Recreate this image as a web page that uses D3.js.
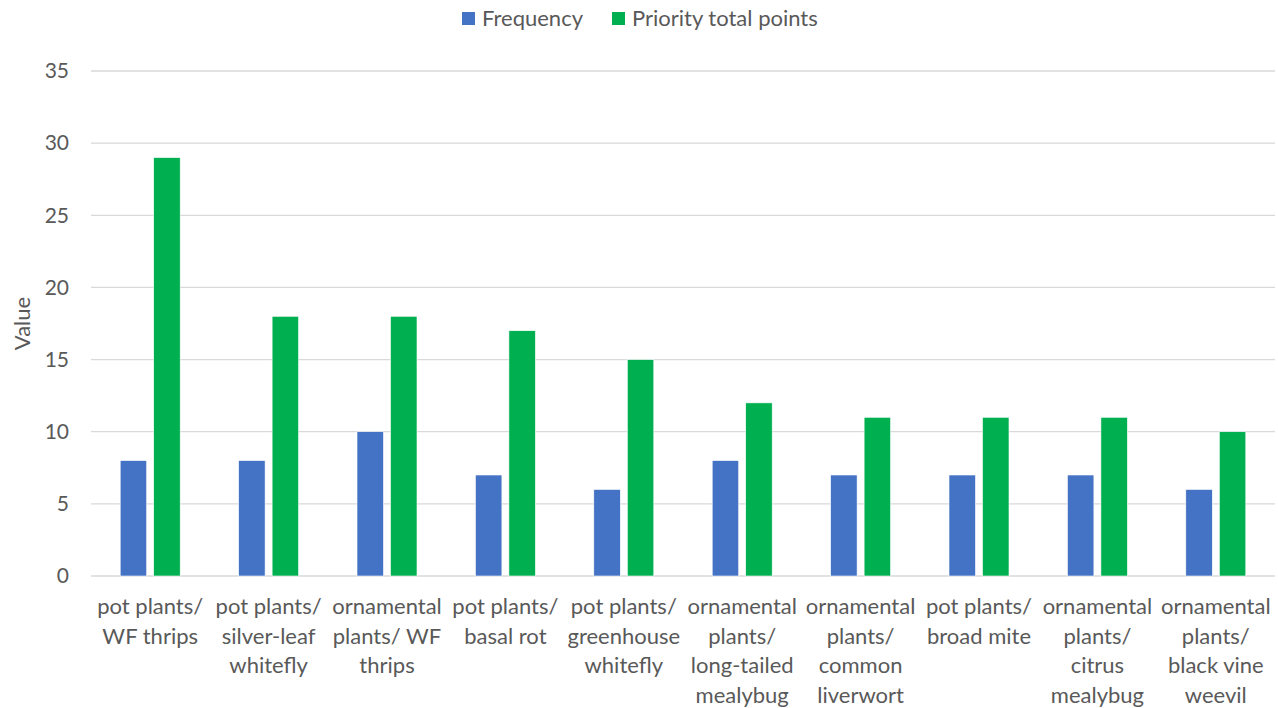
<!DOCTYPE html>
<html>
<head>
<meta charset="utf-8">
<script src="https://cdn.jsdelivr.net/npm/d3@7"></script>
<style>
  body { margin: 0; background: #fff; }
  text { font-family: Lato, "Liberation Sans", sans-serif; fill: #595959; }
</style>
</head>
<body>
<div id="chart-area"></div>
<script>
var categories = [
  ["pot plants/", "WF thrips"],
  ["pot plants/", "silver-leaf", "whitefly"],
  ["ornamental", "plants/ WF", "thrips"],
  ["pot plants/", "basal rot"],
  ["pot plants/", "greenhouse", "whitefly"],
  ["ornamental", "plants/", "long-tailed", "mealybug"],
  ["ornamental", "plants/", "common", "liverwort"],
  ["pot plants/", "broad mite"],
  ["ornamental", "plants/", "citrus", "mealybug"],
  ["ornamental", "plants/", "black vine", "weevil"]
];
var frequency = [8, 8, 10, 7, 6, 8, 7, 7, 7, 6];
var priority = [29, 18, 18, 17, 15, 12, 11, 11, 11, 10];
var seriesNames = ["Frequency", "Priority total points"];
var colors = ["#4472c4", "#00b050"];
var yTicks = [0, 5, 10, 15, 20, 25, 30, 35];

var W = 1278, H = 708;
var margin = {top: 71, right: 3, bottom: 132, left: 91};
var width = W - margin.left - margin.right;
var height = H - margin.top - margin.bottom;

var svg = d3.select("#chart-area").append("svg")
  .attr("width", W)
  .attr("height", H);

var g = svg.append("g")
  .attr("transform", "translate(" + margin.left + "," + margin.top + ")");

var x = d3.scaleBand().domain(d3.range(categories.length)).range([0, width]).padding(0);
var y = d3.scaleLinear().domain([0, 35]).range([height, 0]);

var barW = 26.5, gap = 7;

// gridlines
g.append("g").selectAll("line").data(yTicks).enter().append("line")
  .attr("x1", 0).attr("x2", width)
  .attr("y1", function(d) { return y(d); })
  .attr("y2", function(d) { return y(d); })
  .attr("stroke", "#d9d9d9")
  .attr("stroke-width", 1.3);

// y axis
var yAxis = g.append("g").call(d3.axisLeft(y).tickValues(yTicks).tickSize(0).tickPadding(22));
yAxis.select(".domain").remove();
yAxis.selectAll("text")
  .attr("font-size", "21px")
  .attr("fill", "#595959")
  .style("font-family", "Lato, sans-serif");

// bars
var data = categories.map(function(c, i) { return {i: i, vals: [frequency[i], priority[i]]}; });
var groups = g.selectAll(".grp").data(data).enter().append("g")
  .attr("class", "grp")
  .attr("transform", function(d) { return "translate(" + (x(d.i) + x.bandwidth() / 2) + ",0)"; });

groups.selectAll("rect").data(function(d) { return d.vals; }).enter().append("rect")
  .attr("x", function(d, k) { return k === 0 ? -gap / 2 - barW : gap / 2; })
  .attr("y", function(d) { return y(d); })
  .attr("width", barW)
  .attr("height", function(d) { return height - y(d); })
  .attr("fill", function(d, k) { return colors[k]; })
  .attr("stroke", "#fff")
  .attr("stroke-width", 0.6);

// x labels
var xl = g.append("g").selectAll("text").data(categories).enter().append("text")
  .attr("text-anchor", "middle")
  .attr("font-size", "22px")
  .attr("transform", function(d, i) { return "translate(" + (x(i) + x.bandwidth() / 2) + "," + (height + 38) + ")"; });
xl.selectAll("tspan").data(function(d) { return d; }).enter().append("tspan")
  .attr("x", 0)
  .attr("dy", function(d, k) { return k === 0 ? 0 : 29.6; })
  .text(function(d) { return d; });

// y label
svg.append("text")
  .attr("transform", "translate(30," + (margin.top + height / 2) + ") rotate(-90)")
  .attr("text-anchor", "middle")
  .attr("font-size", "22px")
  .text("Value");

// legend
var legend = svg.append("g").attr("transform", "translate(462,12)");
var lx = [0, 150];
seriesNames.forEach(function(s, k) {
  legend.append("rect")
    .attr("x", lx[k]).attr("y", 0)
    .attr("width", 13).attr("height", 13)
    .attr("fill", colors[k]);
  legend.append("text")
    .attr("x", lx[k] + 20).attr("y", 14)
    .attr("font-size", "22px")
    .text(s);
});
</script>
</body>
</html>
